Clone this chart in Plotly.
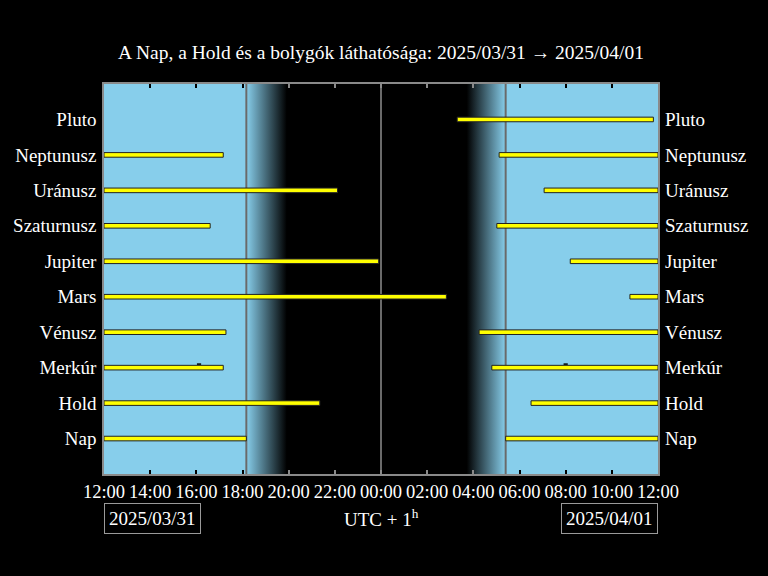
import plotly.graph_objects as go

# ---- data ----
objects = ["Nap", "Hold", "Merkúr", "Vénusz", "Mars", "Jupiter",
           "Szaturnusz", "Uránusz", "Neptunusz", "Pluto"]
# visible from window start (12:00) until this time (None = not visible)
evening_end = ["18:10", "21:21", "17:10", "17:17", "02:50", "23:54",
               "16:36", "22:07", "17:10", None]
# visible again from this time ...
morning_start = ["05:24", "06:30", "04:48", "04:15", "10:47", "08:12",
                 "05:01", "07:04", "05:07", "03:18"]
# ... until this time
morning_end = ["12:00", "12:00", "12:00", "12:00", "12:00", "12:00",
               "12:00", "12:00", "12:00", "11:48"]
merkur_marks = ["16:07", "08:00"]

sunset, dusk_dark = "18:10", "19:55"
dawn_dark, sunrise = "03:43", "05:24"
midnight = "00:00"

tick_labels = ["12:00", "14:00", "16:00", "18:00", "20:00", "22:00", "00:00",
               "02:00", "04:00", "06:00", "08:00", "10:00", "12:00"]

title = "A Nap, a Hold és a bolygók láthatósága: 2025/03/31 \u2192 2025/04/01"
date_left, date_right = "2025/03/31", "2025/04/01"


def hrs(t, end=False):
    h, m = map(int, t.split(":"))
    v = (h + m / 60 - 12) % 24
    if end and v == 0:
        v = 24.0
    return v


SKY = "#87CEEB"
FONT = "Liberation Serif"
NOLINE = dict(width=0, color="rgba(0,0,0,0)")
YLO, YHI = -1, 10
YLO2, YHI2 = -2, 11

fig = go.Figure()

# night rectangle (spans the whole twilight too; gradients drawn on top)
x0n, x1n = hrs(sunset) + 0.05, hrs(sunrise) - 0.05
fig.add_trace(go.Scatter(x=[x0n, x1n, x1n, x0n, x0n], y=[YLO2, YLO2, YHI2, YHI2, YLO2],
                         mode="lines", line=NOLINE, fill="toself",
                         fillcolor="black", hoverinfo="skip", showlegend=False))
# dusk gradient
a, b = hrs(sunset), hrs(dusk_dark)
fig.add_trace(go.Scatter(x=[a, b, b, a, a], y=[YLO2, YLO2, YHI2, YHI2, YLO2],
                         mode="lines", line=NOLINE, fill="toself",
                         fillgradient=dict(type="horizontal",
                                           colorscale=[[0, SKY], [1, "#000000"]]),
                         hoverinfo="skip", showlegend=False))
# dawn gradient
a, b = hrs(dawn_dark), hrs(sunrise)
fig.add_trace(go.Scatter(x=[a, b, b, a, a], y=[YLO2, YLO2, YHI2, YHI2, YLO2],
                         mode="lines", line=NOLINE, fill="toself",
                         fillgradient=dict(type="horizontal",
                                           colorscale=[[0, "#000000"], [1, SKY]]),
                         hoverinfo="skip", showlegend=False))
# vertical lines
for t in (sunset, midnight, sunrise):
    xv = hrs(t)
    fig.add_trace(go.Scatter(x=[xv, xv], y=[YLO2, YHI2], mode="lines",
                             line=dict(color="#6a6a6a", width=2),
                             hoverinfo="skip", showlegend=False))

# bars (drawn as filled rectangles so they sit above the sky background)
half = 0.065
px, py = [], []


def add_rect(x0, x1, yc):
    px.extend([x0, x1, x1, x0, x0, None])
    py.extend([yc - half, yc - half, yc + half, yc + half, yc - half, None])


for i, name in enumerate(objects):
    if evening_end[i] is not None:
        add_rect(0.0, hrs(evening_end[i]), i)
    add_rect(hrs(morning_start[i]), hrs(morning_end[i], end=True), i)

fig.add_trace(go.Scatter(x=px, y=py, mode="lines", fill="toself",
                         fillcolor="#FFFF00", line=dict(color="#222222", width=1),
                         hoverinfo="skip", showlegend=False))

mi = objects.index("Merkúr")
fig.add_trace(go.Scatter(x=[hrs(t) for t in merkur_marks], y=[mi + 0.1] * len(merkur_marks),
                         mode="markers",
                         marker=dict(symbol="line-ew", size=3, color="black",
                                     line=dict(color="black", width=1.5)),
                         hoverinfo="skip", showlegend=False))

# invisible traces for the helper axes
fig.add_trace(go.Scatter(x=[0], y=[0], yaxis="y2", mode="markers",
                         marker=dict(opacity=0), showlegend=False, hoverinfo="skip"))
for xa in ("x2", "x3"):
    fig.add_trace(go.Scatter(x=[0], y=[0], xaxis=xa, mode="markers",
                             marker=dict(opacity=0), showlegend=False, hoverinfo="skip"))

tickvals = list(range(0, 25, 2))
sset, srise = hrs(sunset), hrs(sunrise)
day_ticks = [v for v in tickvals if v < sset or v > srise]
night_ticks = [v for v in tickvals if sset <= v <= srise]

tick_common = dict(range=[0, 24], ticks="inside", ticklen=4, tickwidth=2,
                   showticklabels=False, showline=False, mirror="ticks",
                   showgrid=False, zeroline=False, overlaying="x", matches="x")

fig.update_layout(
    width=768, height=576,
    paper_bgcolor="black", plot_bgcolor=SKY,
    margin=dict(l=104.3, r=110.3, t=83.7, b=102),
    font=dict(family=FONT, color="white", size=19),
    title=dict(text=title, x=0.5, xref="paper", xanchor="center",
               y=1 - 52 / 576, yref="container", yanchor="middle",
               font=dict(family=FONT, size=19.5, color="white")),
    xaxis=dict(range=[0, 24], tickvals=tickvals, ticktext=tick_labels,
               ticks="", showline=True, linecolor="#8a8a8a", linewidth=1.5, mirror=True,
               showgrid=False, zeroline=False,
               tickfont=dict(family=FONT, size=18.5, color="white")),
    xaxis2=dict(tickvals=day_ticks, tickcolor="black", **tick_common),
    xaxis3=dict(tickvals=night_ticks, tickcolor="#8a8a8a", **tick_common),
    yaxis=dict(range=[YLO, YHI], tickvals=list(range(len(objects))), ticktext=objects,
               ticks="", showline=True, linecolor="#8a8a8a", linewidth=1.5, mirror=True,
               showgrid=False, zeroline=False, ticklabelstandoff=2,
               tickfont=dict(family=FONT, size=19, color="white")),
    yaxis2=dict(range=[YLO, YHI], tickvals=list(range(len(objects))), ticktext=objects,
                overlaying="y", side="right", ticks="", showgrid=False, zeroline=False,
                showline=False, ticklabelstandoff=6,
                tickfont=dict(family=FONT, size=19, color="white")),
    annotations=[
        dict(text=date_left, xref="paper", yref="paper", x=0, y=-0.075,
             xanchor="left", yanchor="top", showarrow=False,
             bordercolor="#9a9a9a", borderwidth=1, borderpad=4,
             font=dict(family=FONT, size=19, color="white")),
        dict(text=date_right, xref="paper", yref="paper", x=1, y=-0.075,
             xanchor="right", yanchor="top", showarrow=False,
             bordercolor="#9a9a9a", borderwidth=1, borderpad=4,
             font=dict(family=FONT, size=19, color="white")),
        dict(text="UTC + 1<sup>h</sup>", xref="paper", yref="paper", x=0.5, y=-0.113,
             xanchor="center", yanchor="middle", showarrow=False,
             font=dict(family=FONT, size=19, color="white")),
    ],
)

fig.write_html("out.html", config={"displayModeBar": False})
with open("out.html", encoding="utf-8") as f:
    html = f.read()
html = html.replace("<body>", '<body style="margin:0;background:black;">', 1)
with open("out.html", "w", encoding="utf-8") as f:
    f.write(html)
